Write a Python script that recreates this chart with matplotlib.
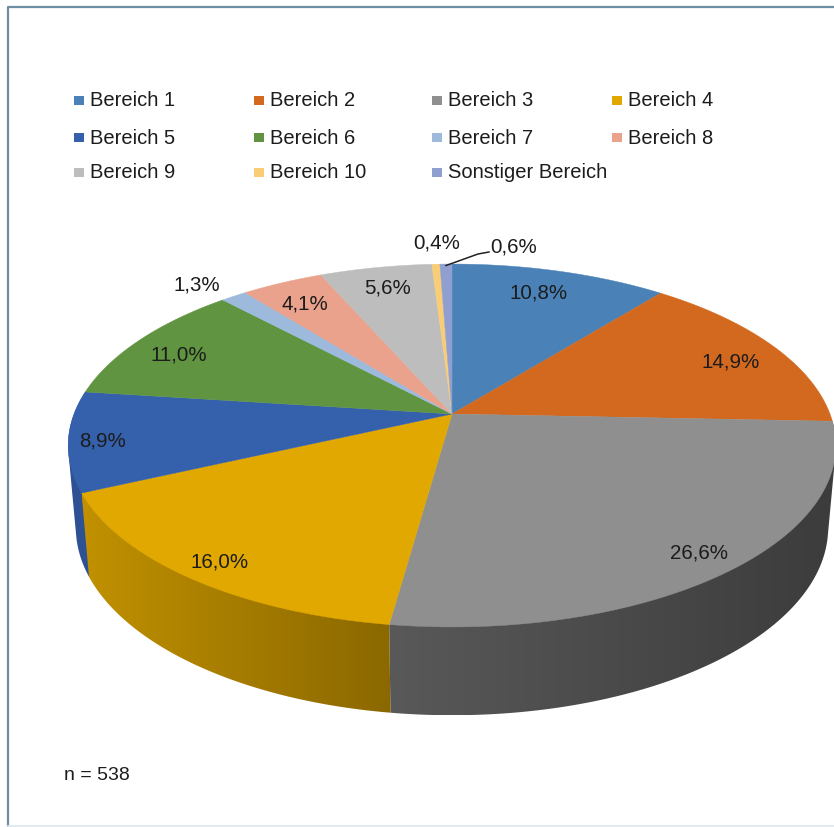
import numpy as np
import matplotlib
matplotlib.use('Agg')
import matplotlib.pyplot as plt
from matplotlib.colors import to_rgb
from matplotlib.patches import Rectangle, Polygon

########## Data ##########

names = ['Bereich 1', 'Bereich 2', 'Bereich 3', 'Bereich 4', 'Bereich 5', 'Bereich 6',
         'Bereich 7', 'Bereich 8', 'Bereich 9', 'Bereich 10', 'Sonstiger Bereich']
values = [10.8, 14.9, 26.6, 16.0, 8.9, 11.0, 1.3, 4.1, 5.6, 0.4, 0.6]
colors = ['#4a82b8', '#d2691f', '#8f8f8f', '#e0a800', '#3560ac', '#609441',
          '#9db9dc', '#eba28c', '#bdbdbd', '#f9cc76', '#8f9fd0']
n_text = 'n = 538'

# where each percent label sits (pixels of the picture)
label_x = [539, 731, 699, 220, 103, 179, 197, 305, 388, 437, 514]
label_y = [293, 362, 553, 562, 441, 355, 285, 304, 288, 243, 247]

# legend grid
leg_x = [79, 259, 437, 617]
leg_y = [100, 137, 172]

# side wall shading (left end, right end), back wedges first
wall_shade = {4: (0.85, 0.85), 2: (0.62, 0.42), 3: (0.86, 0.62)}

########## Perspective of the pie ##########

cx, cy = 452., 414.
ax_x, ax_y = 378., 176.
k = 0.1736
low_y, low_b, low_s = 495., 182., 0.98

def top_rim(t):
    u, v = np.sin(t), np.cos(t)
    d = 1 + k*v
    return cx + ax_x*u/d, cy - ax_y*v/d

def low_rim(t):
    u, v = np.sin(t), np.cos(t)
    d = 1 + k*v
    return cx + low_s*ax_x*u/d, low_y - low_b*v/d

# wall outline has to close the gap between the two rims at the far left/right
def hull(pts):
    pts = sorted(set(map(tuple, pts)))
    def half(seq):
        out = []
        for p in seq:
            while len(out) > 1 and ((out[-1][0]-out[-2][0])*(p[1]-out[-2][1])
                                    - (out[-1][1]-out[-2][1])*(p[0]-out[-2][0])) <= 0:
                out.pop()
            out.append(p)
        return out[:-1]
    return np.array(half(pts) + half(pts[::-1]))

edges = 2*np.pi*np.cumsum([0] + values)/np.sum(values)

########## Plotting ##########

fig = plt.figure(figsize=(8.34, 8.27), dpi=100)
ax = fig.add_axes([0, 0, 1, 1])

plt.rcParams['font.family'] = ['Liberation Sans', 'DejaVu Sans']
txt = '#1c1c1c'

# side wall, a horizontal gradient clipped to the wall outline
for i, sh in wall_shade.items():
    ts = np.linspace(edges[i], edges[i+1], 120)
    xt, yt = top_rim(ts)
    xl, yl = low_rim(ts)
    outline = hull(np.c_[np.r_[xt, xl], np.r_[yt, yl]])
    left, right = outline[:, 0].min(), outline[:, 0].max()
    shade = np.linspace(sh[0], sh[1], 64)
    grad = shade[None, :, None]*np.array(to_rgb(colors[i]))[None, None, :]
    im = ax.imshow(grad, extent=(left, right, outline[:, 1].max(), outline[:, 1].min()),
                   aspect='auto', interpolation='bilinear', zorder=2)
    poly = Polygon(outline, closed=True, transform=ax.transData, fc='none', ec='none')
    ax.add_patch(poly)
    im.set_clip_path(poly)

ax.set_xlim(0, 834)
ax.set_ylim(827, 0)
ax.axis('off')

# frame, the crop leaves out the right side
ax.plot([834, 8, 8], [6.5, 6.5, 827], color='#6f8ea3', lw=1.6, zorder=1)
ax.plot([8, 834], [826, 826], color='#dfe8ee', lw=1.2, zorder=1)

# top of the pie
for i, c in enumerate(colors):
    ts = np.linspace(edges[i], edges[i+1], 80)
    xs, ys = top_rim(ts)
    ax.fill(np.r_[cx, xs], np.r_[cy, ys], color=c, lw=0.3, zorder=3)

# percent labels
for v, x, y in zip(values, label_x, label_y):
    ax.text(x, y, f'{v:.1f}%'.replace('.', ','), ha='center', va='center',
            fontsize=14.8, color=txt, zorder=5)

# leader line for the smallest slice
ax.plot([446, 478, 489], [265.5, 254, 252], color='#222222', lw=1.1, zorder=4)

# legend
for i, name in enumerate(names):
    lx, ly = leg_x[i % 4], leg_y[i // 4]
    ax.add_patch(Rectangle((lx - 4.5, ly - 4.5), 9.5, 9.5, color=colors[i], lw=0, zorder=5))
    ax.text(lx + 11, ly + 1, name, ha='left', va='center', fontsize=14.5, color=txt, zorder=5)

ax.text(64, 775, n_text, ha='left', va='center', fontsize=14, color=txt)

plt.savefig('out.png', dpi=100)
